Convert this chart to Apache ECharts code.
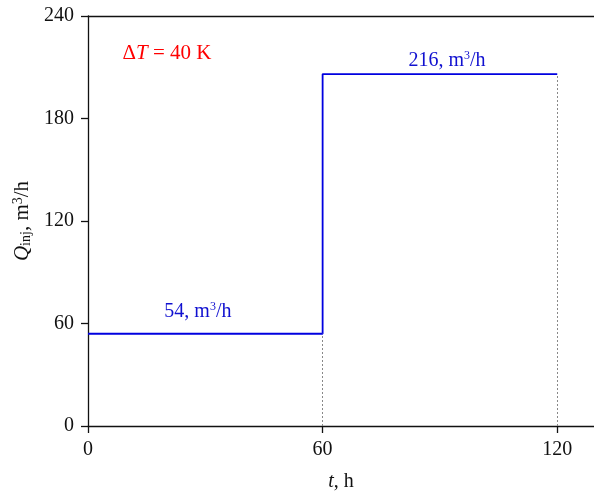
<!DOCTYPE html>
<html><head><meta charset="utf-8">
<script src="https://cdn.jsdelivr.net/npm/echarts@6/dist/echarts.min.js"></script>
<style>html,body{margin:0;padding:0;background:#fff}#c{width:594px;height:497px}</style>
</head><body><div id="c"></div>
<script>
const times = [0, 60, 120];
const flowValues = [54, 206, 206];
const xTicks = [0, 60, 120];
const yTicks = [0, 60, 120, 180, 240];
const guideLines = [[60, 54], [120, 206]];
const annotations = [
  {x: 20.2, y: 218},
  {x: 91.8, y: 214},
  {x: 28.1, y: 67}
];
const FONT = 'Liberation Serif';
const FS = 20;
const chart = echarts.init(document.getElementById('c'));
const richLabel = (blue) => ({
  n: {fontFamily: FONT, fontSize: FS, color: blue},
  s: {fontFamily: FONT, fontSize: 12, color: blue, verticalAlign: 'top', padding: [0,0,10,0]}
});
chart.setOption({
  animation: false,
  grid: {left: 88, right: 0, top: 16, bottom: 71},
  xAxis: [{
    type: 'value', min: 0, max: 129.4, interval: 60,
    axisLine: {lineStyle: {color: '#111', width: 1.3}},
    axisTick: {inside: false, length: 7, lineStyle: {color: '#111', width: 1.3}},
    axisLabel: {fontFamily: FONT, fontSize: FS, color: '#111', margin: 14, showMaxLabel: false,
      formatter: v => xTicks.includes(v) ? String(v) : ''},
    splitLine: {show: false},
    name: '{i|t}{n|, h}', nameLocation: 'middle', nameGap: 46,
    nameTextStyle: {rich: {i: {fontFamily: FONT, fontStyle: 'italic', fontSize: FS, color: '#111'}, n: {fontFamily: FONT, fontSize: FS, color: '#111'}}}
  }, {
    type: 'value', position: 'top', min: 0, max: 129.4,
    axisLine: {show: true, lineStyle: {color: '#111', width: 1.3}},
    axisTick: {show: false}, axisLabel: {show: false}, splitLine: {show: false}
  }],
  yAxis: {
    type: 'value', min: 0, max: 240, interval: 60,
    axisLine: {show: true, lineStyle: {color: '#111', width: 1.3}},
    axisTick: {show: true, inside: false, length: 7, lineStyle: {color: '#111', width: 1.3}},
    axisLabel: {fontFamily: FONT, fontSize: FS, color: '#111', margin: 14,
      formatter: v => yTicks.includes(v) ? String(v) : ''},
    splitLine: {show: false},
    name: '{q|Q}{sub|inj}{n|, m}{sup|3}{n|/h}', nameLocation: 'middle', nameGap: 54, nameRotate: 90,
    nameTextStyle: {rich: {
      q: {fontFamily: FONT, fontStyle: 'italic', fontSize: 21, color: '#111'},
      n: {fontFamily: FONT, fontSize: 21, color: '#111'},
      sub: {fontFamily: FONT, fontSize: 14, color: '#111', verticalAlign: 'bottom', padding: [8,0,0,0]},
      sup: {fontFamily: FONT, fontSize: 14, color: '#111', verticalAlign: 'top', padding: [0,0,8,0]}
    }}
  },
  series: [{
    type: 'line', step: 'end', symbol: 'none',
    data: times.map((t, i) => [t, flowValues[i]]),
    lineStyle: {color: '#0000e0', width: 1.8},
    markLine: {
      silent: true, symbol: 'none', label: {show: false},
      lineStyle: {color: '#888', type: [2, 2], width: 1},
      data: guideLines.map(g => [{coord: [g[0], 0]}, {coord: [g[0], g[1]]}])
    },
    markPoint: {
      symbol: 'circle', symbolSize: 0,
      data: [
        {coord: [annotations[0].x, annotations[0].y], label: {show: true, formatter: '{r|Δ}{ri|T}{r| = 40 K}',
          rich: {r: {fontFamily: FONT, fontSize: 21, color: '#ff0000'}, ri: {fontFamily: FONT, fontSize: 21, fontStyle: 'italic', color: '#ff0000'}}}},
        {coord: [annotations[1].x, annotations[1].y], label: {show: true, formatter: '{n|216, m}{s|3}{n|/h}', rich: richLabel('#1010d0')}},
        {coord: [annotations[2].x, annotations[2].y], label: {show: true, formatter: '{n|54, m}{s|3}{n|/h}', rich: richLabel('#1010d0')}}
      ]
    }
  }]
});
</script></body></html>
